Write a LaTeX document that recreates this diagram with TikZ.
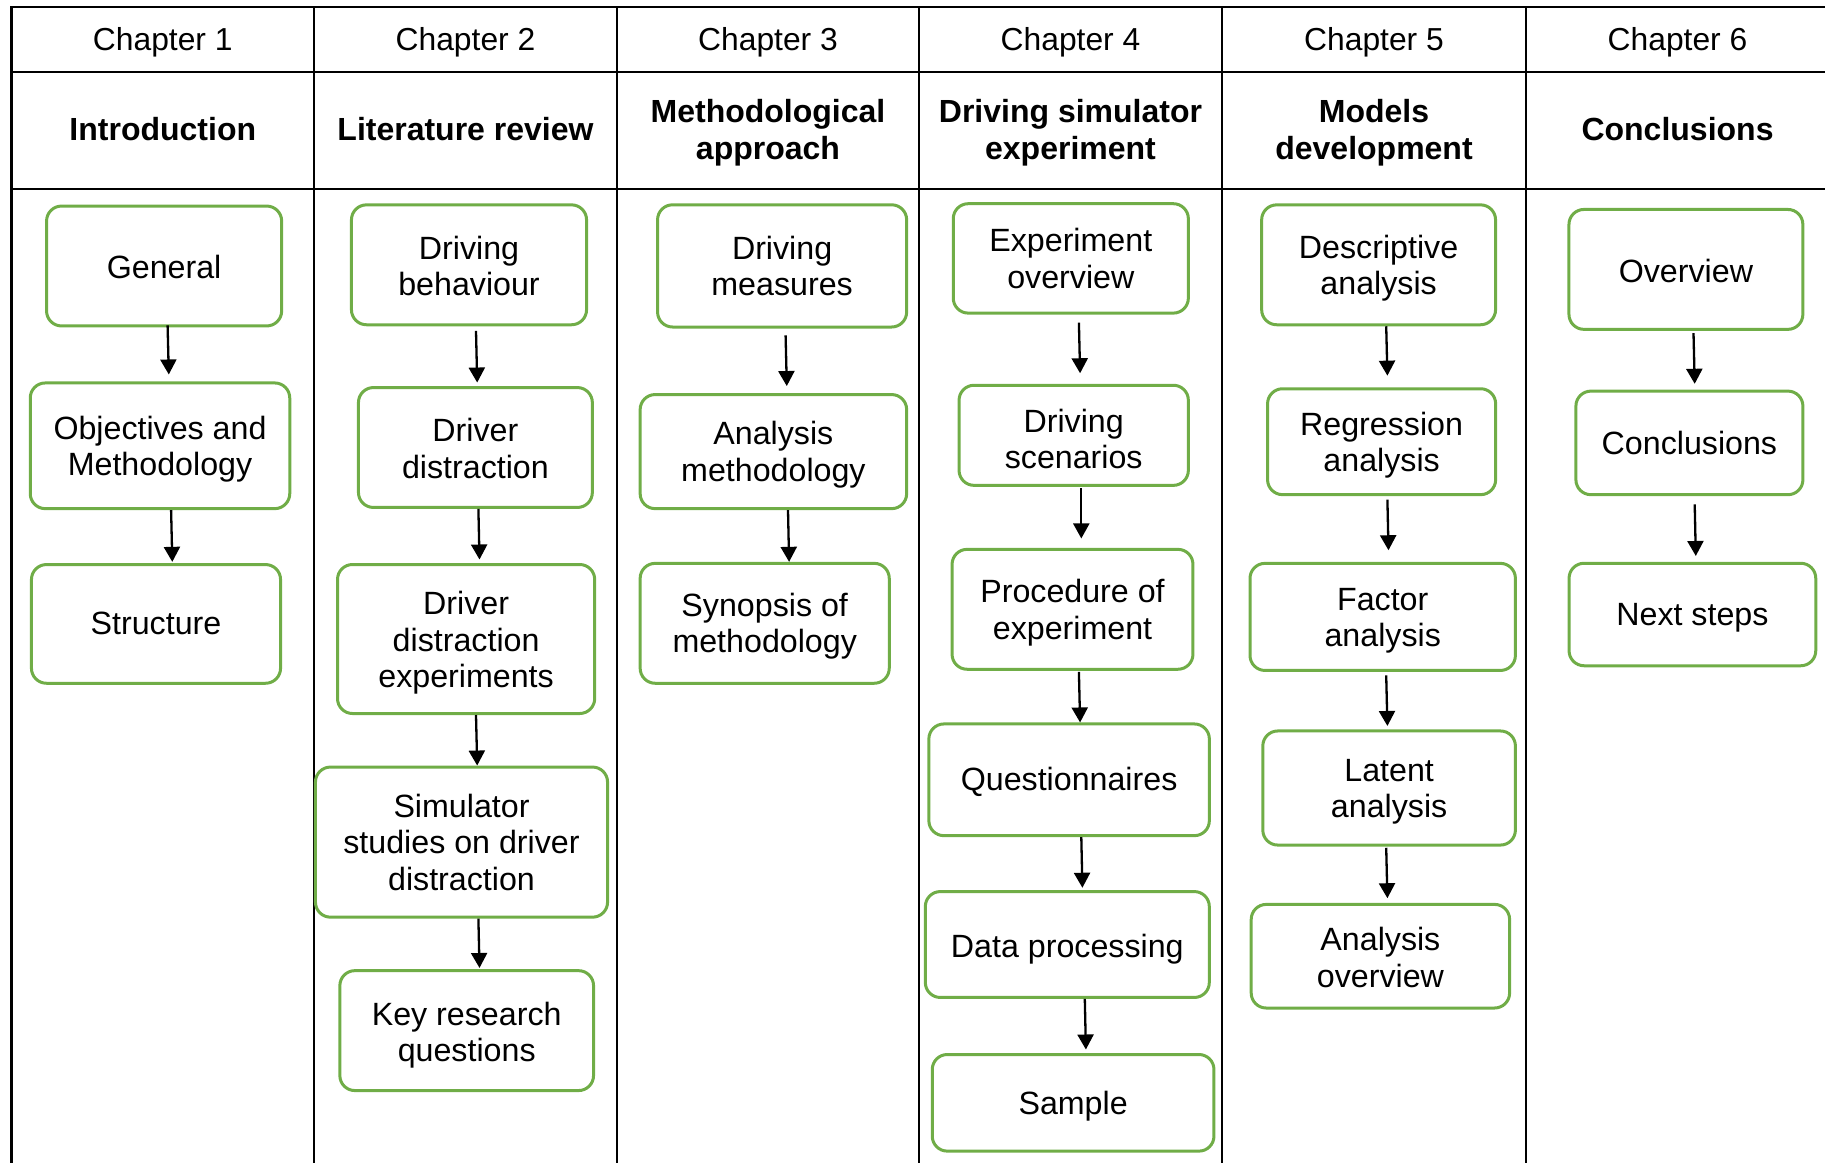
\documentclass[tikz,border=0pt]{standalone}
\usepackage{fontspec}
\setmainfont{Liberation Sans}
\usetikzlibrary{arrows.meta,calc}
\definecolor{boxgreen}{RGB}{112,173,71}
\tikzset{
  stage/.style={draw=boxgreen, line width=1.5pt, rounded corners=7.5pt,
    inner sep=0pt, fill=white},
  stagetext/.style={align=center, inner sep=0pt,
    font=\fontsize{16.1}{18.2}\selectfont},
  wh/.style 2 args={minimum width=#1*0.5pt, minimum height=#2*0.5pt},
  grid/.style={line width=1.3pt, black},
  flow/.style={line width=1.15pt, -{Triangle[length=7.5pt,width=8pt]}},
  chap/.style={font=\fontsize{15.9}{18}\selectfont, align=center},
  chaptitle/.style={font=\bfseries\fontsize{16}{18.5}\selectfont, align=center},
}
% a rounded box and its text: name, x, y, width, height, text drop, text
\newcommand\stagebox[7]{%
  \node[stage, wh={#4}{#5}] (#1) at (#2,#3) {};
  \node[stagetext] (#1-t) at ($(#1.center)+(0,#6)$) {#7};}
% one connector: source, target, start offset, end offset (pixel units)
\newcommand\link[4]{\draw[flow] ($(#1.south)+(#3)$) -- ($(#2.north)+(#4)$);}
\begin{document}
\begin{tikzpicture}[x=0.5pt,y=-0.5pt]
\useasboundingbox (0,0) rectangle (1825,1162);
\clip (0,0) rectangle (1825,1162);

% table frame
\draw[grid] (11.6,1170) -- (11.6,7) -- (1840,7);
\draw[grid] (11.6,72) -- (1840,72);
\draw[grid] (11.6,189) -- (1840,189);
\foreach \cx in {314,617,919,1222,1526,1829}
  \draw[grid] (\cx,7) -- (\cx,1170);

% column headings
\foreach \i/\cx in {1/162.8,2/465.5,3/768,4/1070.5,5/1374,6/1677.5}
  \node[chap] (ch\i) at (\cx,42) {Chapter \i};
\node[chaptitle] (t1) at (162.8,129.5) {Introduction};
\node[chaptitle] (t2) at (465.5,129.5) {Literature review};
\node[chaptitle] (t3) at (768,133) {Methodological\\approach};
\node[chaptitle] (t4) at (1070.5,133) {Driving simulator\\experiment};
\node[chaptitle] (t5) at (1374,133) {Models\\development};
\node[chaptitle] (t6) at (1677.5,129.5) {Conclusions};

% Chapter 1
\stagebox{gen}{164.1}{266.0}{235.1}{119.9}{1.2}{General}
\stagebox{obj}{160.0}{445.8}{259.5}{125.7}{3.5}{Objectives and\\Methodology}
\stagebox{str}{156.0}{623.9}{249.1}{118.7}{0}{Structure}

% Chapter 2
\stagebox{dbeh}{469.0}{264.8}{235.1}{119.9}{1}{Driving\\behaviour}
\stagebox{ddis}{475.4}{447.5}{233.9}{119.9}{1}{Driver\\distraction}
\stagebox{ddex}{466.1}{639.0}{257.2}{149.0}{4}{Driver\\distraction\\experiments}
\stagebox{sims}{461.5}{842.1}{292.1}{150.1}{0}{Simulator\\studies on driver\\distraction}
\stagebox{keyq}{466.7}{1030.6}{253.7}{119.9}{4.7}{Key research\\questions}

% Chapter 3
\stagebox{dmea}{782.1}{265.9}{249.1}{122.2}{0}{Driving\\measures}
\stagebox{amet}{773.4}{451.6}{266.5}{114.1}{3}{Analysis\\methodology}
\stagebox{syno}{764.7}{623.3}{249.1}{119.9}{3}{Synopsis of\\methodology}

% Chapter 4
\stagebox{expo}{1070.8}{258.4}{235.1}{109.4}{0}{Experiment\\overview}
\stagebox{dsce}{1073.7}{435.3}{229.3}{100.1}{3.5}{Driving\\scenarios}
\stagebox{proc}{1072.5}{609.3}{240.9}{119.9}{3.5}{Procedure of\\experiment}
\stagebox{ques}{1069.1}{779.8}{280.5}{111.7}{2.3}{Questionnaires}
\stagebox{dpro}{1067.3}{944.5}{284.0}{105.9}{4.7}{Data processing}
\stagebox{samp}{1073.1}{1102.8}{281.7}{96.6}{3.5}{Sample}

% Chapter 5
\stagebox{desc}{1378.6}{264.8}{233.9}{119.9}{3.5}{Descriptive\\analysis}
\stagebox{regr}{1381.6}{441.7}{228.1}{105.9}{3.5}{Regression\\analysis}
\stagebox{fact}{1382.7}{616.9}{265.4}{107.1}{4}{Factor\\analysis}
\stagebox{late}{1389.1}{788.0}{252.6}{114.1}{3.5}{Latent\\analysis}
\stagebox{aove}{1380.4}{956.2}{258.4}{103.6}{1.2}{Analysis\\overview}

% Chapter 6
\stagebox{over}{1685.9}{269.4}{233.9}{119.9}{1.2}{Overview}
\stagebox{conc}{1689.4}{442.9}{227.0}{103.6}{0}{Conclusions}
\stagebox{next}{1692.4}{614.5}{246.7}{102.5}{3.5}{Next steps}

% connectors
\link{gen}{obj}{3.5,-2}{8.8,-7}
\link{obj}{str}{11.1,0}{16.3,-1.2}
\link{dbeh}{ddis}{7,4.7}{1.8,-3.5}
\link{ddis}{ddex}{3,0}{13.4,-3.5}
\link{ddex}{sims}{9.9,0}{15.7,0}
\link{sims}{keyq}{16.9,0}{12.8,-1.2}
\link{dmea}{amet}{3.5,6.9}{13.4,-7}
\link{amet}{syno}{14.6,0}{24.4,0}
\link{expo}{dsce}{8.1,8.1}{6.4,-10.5}
\link{dsce}{proc}{7.6,1.2}{8.8,-9.4}
\link{proc}{ques}{6.4,1.2}{11,0}
\link{ques}{dpro}{12.2,0}{15.1,-2.3}
\link{dpro}{samp}{17.5,0}{12.8,-3.5}
\link{desc}{regr}{7.6,0}{5.8,-11.6}
\link{regr}{fact}{5.8,3.5}{5.8,-11.6}
\link{fact}{late}{3.5,3.5}{-1.7,-3.5}
\link{late}{aove}{-2.9,1.2}{7,-4.7}
\link{over}{conc}{7.6,2.3}{5.3,-5.8}
\link{conc}{next}{5.3,8.1}{3.4,-5.8}
\end{tikzpicture}
\end{document}
